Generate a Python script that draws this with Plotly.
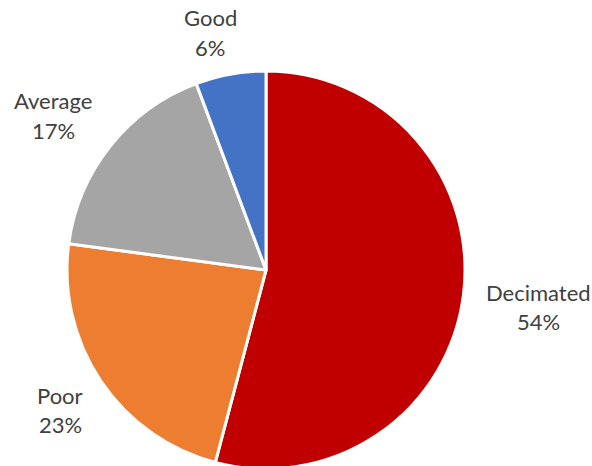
import plotly.graph_objects as go

categories = ["Decimated", "Poor", "Average", "Good"]
values = [54.1, 23.0, 17.2, 5.7]
colors = ["#C00000", "#ED7D31", "#A5A5A5", "#4472C4"]

W, H = 592, 474
# label centres in window pixels (name line, percent line below)
label_px = {
    "Decimated": (538, 292),
    "Poor": (60, 395),
    "Average": (53, 101),
    "Good": (210, 18),
}
line_gap = 29

fig = go.Figure(go.Pie(
    labels=categories,
    values=values,
    sort=False,
    direction="clockwise",
    rotation=0,
    textinfo="none",
    hoverinfo="label+percent",
    marker=dict(colors=colors, line=dict(color="white", width=3)),
    domain=dict(x=[0.1132, 0.7855], y=[0.01055, 0.8502]),
    showlegend=False,
))

total = sum(values)
font = dict(family="Lato, Noto Sans, sans-serif", size=22, color="#404040")
for cat, v in zip(categories, values):
    px, py = label_px[cat]
    pct = f"{round(v / total * 100)}%"
    for i, txt in enumerate([cat, pct]):
        fig.add_annotation(
            x=px / W, y=1 - (py + i * line_gap) / H,
            xref="paper", yref="paper",
            text=txt, showarrow=False, font=font,
            xanchor="center", yanchor="middle",
        )

fig.update_layout(
    width=W, height=H,
    margin=dict(l=0, r=0, t=0, b=0),
    paper_bgcolor="white",
    plot_bgcolor="white",
)

fig.write_html(
    "out.html",
    config={"displayModeBar": False},
    post_script="document.body.style.margin='0';document.body.style.overflow='hidden';",
)
